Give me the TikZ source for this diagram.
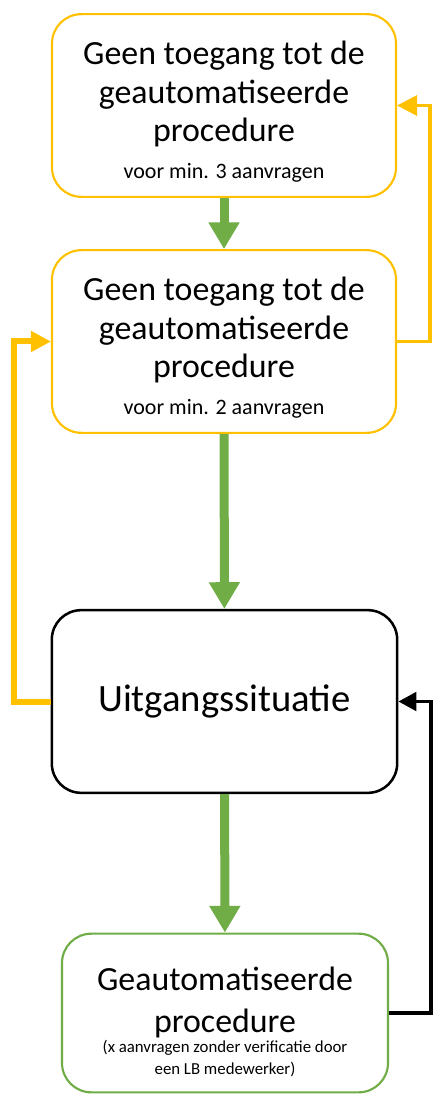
\documentclass[tikz,border=0pt]{standalone}
\usepackage{fontspec}
\setmainfont{Carlito}
\usetikzlibrary{arrows.meta,positioning,calc}

\definecolor{gold}{HTML}{FFC000}
\definecolor{leaf}{HTML}{70AD47}

\newcommand{\bigtxt}{\fontsize{25.4}{29}\selectfont}
\newcommand{\smalltxt}{\fontsize{16.5}{20}\selectfont}
\newcommand{\tinytxt}{\fontsize{12.6}{15}\selectfont}

\begin{document}
\begin{tikzpicture}[x=0.75pt, y=-0.75pt,
    stepbox/.style={rounded corners=22pt, fill=white, align=center, font=\bigtxt,
      minimum width=258pt, minimum height=137pt, inner sep=0pt},
    flow/.style={leaf, line width=6.75pt, -{Triangle[width=22pt,length=20pt]}},
    backloop/.style={gold, -{Triangle[width=15pt,length=15pt]}}]
  \useasboundingbox (0,0) rectangle (432,1094);

  % --- Boxes ---
  \node[stepbox, draw=gold, line width=1.6pt] (noaccess3) at (224,105.5)
    {\rule{0pt}{27pt}Geen toegang tot de\\ geautomatiseerde\\ procedure\\[-1.5pt]
     {\smalltxt voor min. 3 aanvragen}};
  \node[stepbox, draw=gold, line width=1.6pt] (noaccess2) at (224,341.5)
    {\rule{0pt}{27pt}Geen toegang tot de\\ geautomatiseerde\\ procedure\\[-1.5pt]
     {\smalltxt voor min. 2 aanvragen}};
  \node[stepbox, draw=black, line width=1.9pt, minimum width=259pt,
    font=\fontsize{29}{34}\selectfont] (start) at (224.5,701.5) {Uitgangssituatie};
  \node[stepbox, draw=leaf, line width=1.6pt, minimum width=244.5pt, minimum height=119pt]
    (auto) at (225,1013)
    {\rule{0pt}{31pt}Geautomatiseerde\\[2pt] procedure\\[-13.5pt]
     {\tinytxt (x aanvragen zonder verificatie door}\\[-12.8pt]
     {\tinytxt een LB medewerker)}};

  % --- Main flow ---
  \draw[flow] (noaccess3) -- (noaccess2);
  \draw[flow] (noaccess2) -- (start);
  \draw[flow] (start) -- (auto);

  % --- Loops back ---
  \draw[backloop, line width=2.4pt] (noaccess2.east) -- ++(33,0) |- (noaccess3.east);
  \draw[backloop, line width=4.5pt] (start.west) -- ++(-37,0) |- (noaccess2.west);
  \draw[black, line width=2.4pt, -{Triangle[width=14pt,length=13.5pt]}]
    (auto.east) -- ++(42,0) |- (start.east);
\end{tikzpicture}
\end{document}
